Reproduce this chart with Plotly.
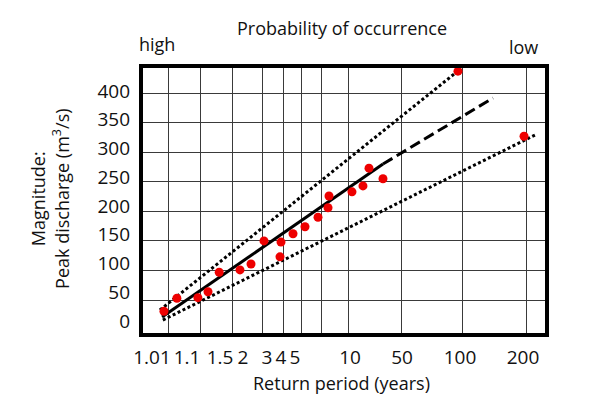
import numpy as np
import plotly.graph_objects as go

# ---- schematic return-period scale (probability paper) ----
scale_periods = [1.0, 1.01, 1.1, 1.5, 2, 3, 4, 5, 10, 50, 100, 200, 250]
scale_pos = [0, 27, 59, 91, 121, 142, 160, 180, 207, 260, 321, 385, 417]

tick_periods = [1.01, 1.1, 1.5, 2, 3, 4, 5, 10, 50, 100, 200]
tick_labels = ["1.01", "1.1", "1.5", "2", "3", "4", "5", "10", "50", "100", "200"]
label_shift = [-16, -13, -12, -19, -16, -20, -26, 2, 1, -2, -3]

y_grid = [50, 100, 150, 200, 250, 300, 350, 400]
y_ticks = [0, 50, 100, 150, 200, 250, 300, 350, 400]
y_labels = ["0", "50", "100", "150", "200", "250", "300", "350", "400"]

# ---- observed annual peaks ----
obs_T = [1.0085, 1.035, 1.094, 1.2, 1.34, 1.633, 1.817, 2.095, 2.905, 2.857,
         3.556, 4.2, 4.85, 6.3, 6.48, 13.0, 21.3, 25.85, 36.4, 96.7, 196.9]
obs_Q = [31, 53, 54, 64, 97, 101, 111, 150, 148, 123,
         162, 174, 190, 206, 226, 233, 243, 273, 255, 437, 327]

# ---- fitted line and confidence limits ----
fit_T = [1.0078, 36.4]
fit_Q = [21.3, 280.0]
ext_T = [36.4, 148.4]
ext_Q = [280.0, 391.6]
upper_T = [1.0070, 96.7]
upper_Q = [33.1, 437.3]
lower_T = [1.0081, 217.2]
lower_Q = [16.2, 330.7]


def to_axis(t):
    return np.interp(np.asarray(t, dtype=float), scale_periods, scale_pos)


FONT = "Open Sans, Lato, sans-serif"
TXT = "#111111"
TICK = 19

fig = go.Figure()
fig.add_trace(go.Scatter(x=to_axis(upper_T), y=upper_Q, mode="lines",
                         line=dict(color="black", width=3, dash="3px,2.5px"),
                         hoverinfo="skip", showlegend=False))
fig.add_trace(go.Scatter(x=to_axis(lower_T), y=lower_Q, mode="lines",
                         line=dict(color="black", width=3, dash="3px,2.5px"),
                         hoverinfo="skip", showlegend=False))
fig.add_trace(go.Scatter(x=to_axis(fit_T), y=fit_Q, mode="lines",
                         line=dict(color="black", width=3),
                         hoverinfo="skip", showlegend=False))
fig.add_trace(go.Scatter(x=to_axis(ext_T), y=ext_Q, mode="lines",
                         line=dict(color="black", width=3, dash="11px,5px"),
                         hoverinfo="skip", showlegend=False))
fig.add_trace(go.Scatter(x=to_axis(obs_T), y=obs_Q, mode="markers",
                         marker=dict(color="#ee0000", size=9, line=dict(width=0)),
                         showlegend=False))
# carrier for the label axes
fig.add_trace(go.Scatter(x=[0], y=[0], xaxis="x2", yaxis="y2", mode="markers",
                         marker=dict(opacity=0), hoverinfo="skip", showlegend=False))

grid_col = "#3a3a3a"
fig.update_layout(
    width=601, height=395,
    margin=dict(l=133, r=62, t=58, b=68),
    paper_bgcolor="white", plot_bgcolor="white",
    font=dict(family=FONT, size=18, color=TXT),
    xaxis=dict(range=[0, 406], tickmode="array", tickvals=list(to_axis(tick_periods)),
               showgrid=True, gridcolor=grid_col, gridwidth=1,
               showticklabels=False, ticks="", zeroline=False, showline=False),
    xaxis2=dict(overlaying="x", anchor="y2", side="bottom", range=[0, 406],
                tickmode="array",
                tickvals=list(to_axis(tick_periods) + np.array(label_shift)),
                ticktext=tick_labels, showgrid=False, zeroline=False, ticks="",
                ticklabelstandoff=9, tickfont=dict(size=TICK, family=FONT, color=TXT)),
    yaxis=dict(range=[-9.1, 445.7], tickmode="array", tickvals=y_grid,
               showgrid=True, gridcolor=grid_col, gridwidth=1,
               showticklabels=False, ticks="", zeroline=False, showline=False),
    yaxis2=dict(overlaying="y", anchor="x2", side="left", range=[-24.3, 443.5],
                tickmode="array", tickvals=y_ticks, ticktext=y_labels,
                showgrid=False, zeroline=False, ticks="",
                ticklabelstandoff=10, tickfont=dict(size=TICK, family=FONT, color=TXT)),
    shapes=[dict(type="rect", xref="paper", yref="paper", x0=0, x1=1, y0=0, y1=1,
                 line=dict(color="black", width=4), layer="above")],
    annotations=[
        dict(text="Magnitude:<br>Peak discharge (m<sup>3</sup>/s)", textangle=-90,
             xref="paper", yref="paper", x=-0.224, y=0.506, showarrow=False,
             xanchor="center", yanchor="middle", font=dict(size=18)),
        dict(text="Return period (years)", xref="paper", yref="paper",
             x=0.495, y=-0.178, showarrow=False, xanchor="center", yanchor="middle",
             font=dict(size=18)),
        dict(text="Probability of occurrence", xref="paper", yref="paper",
             x=0.495, y=1.141, showarrow=False, xanchor="center", yanchor="middle",
             font=dict(size=18)),
        dict(text="high", xref="paper", yref="paper", x=-0.0099, y=1.082,
             showarrow=False, xanchor="left", yanchor="middle", font=dict(size=18)),
        dict(text="low", xref="paper", yref="paper", x=0.901, y=1.071,
             showarrow=False, xanchor="left", yanchor="middle", font=dict(size=18)),
    ],
)

fig.write_html("out.html")
